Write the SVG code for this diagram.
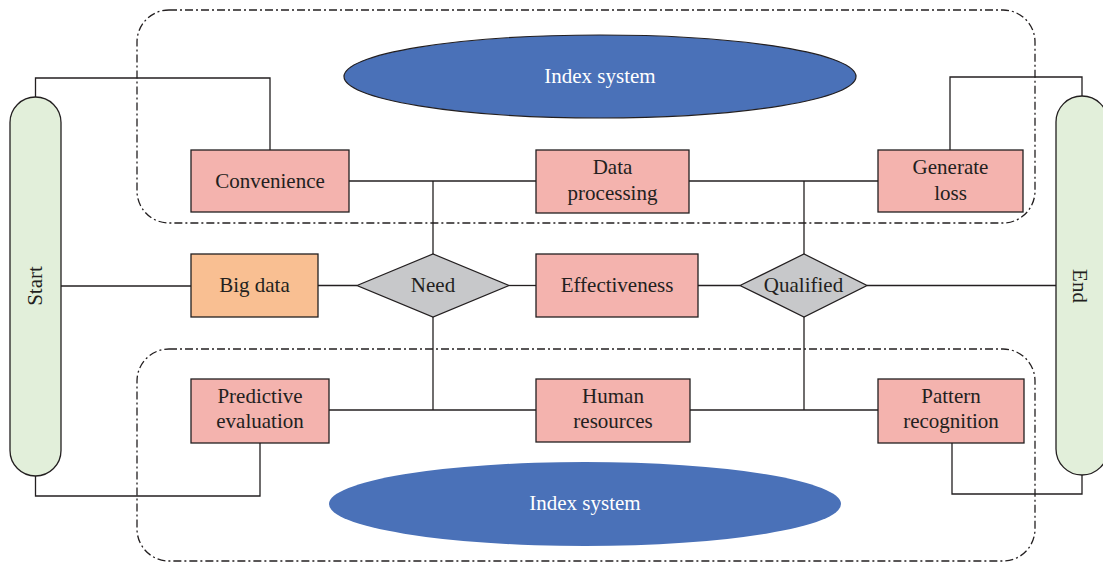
<svg xmlns="http://www.w3.org/2000/svg" width="1103" height="567" viewBox="0 0 1103 567">
<style>
.box{fill:#F4B3AE;stroke:#231F20;stroke-width:1.3}
.big{fill:#F9BF92;stroke:#231F20;stroke-width:1.3}
.dia{fill:#C7C8CA;stroke:#231F20;stroke-width:1.3}
.cap{fill:#E2EFDA;stroke:#231F20;stroke-width:1.3}
.ell{fill:#4A71B8;stroke:#231F20;stroke-width:1.2}
.ell2{fill:#4A71B8}
.grp{fill:none;stroke:#231F20;stroke-width:1.3;stroke-dasharray:8 3 2 3}
.ln{fill:none;stroke:#231F20;stroke-width:1.3}
text{font-family:"Liberation Serif","Times New Roman",serif;font-size:21px;fill:#231F20;text-anchor:middle}
.wt{fill:#FFFFFF}
</style>
<g id="groups">
<rect class="grp" x="137" y="10" width="898" height="213" rx="32" ry="32"/>
<rect class="grp" x="137" y="349" width="898" height="212" rx="32" ry="32"/>
</g>
<g id="connectors">
<polyline class="ln" points="35.5,97 35.5,78 270,78 270,150"/>
<polyline class="ln" points="1082,96 1082,77 950,77 950,150"/>
<polyline class="ln" points="35.5,476 35.5,496 260,496 260,443"/>
<polyline class="ln" points="1082,475 1082,494 952,494 952,443"/>
<line class="ln" x1="61" y1="286" x2="191" y2="286"/>
<line class="ln" x1="318" y1="285.5" x2="357" y2="285.5"/>
<line class="ln" x1="509" y1="285.5" x2="536" y2="285.5"/>
<line class="ln" x1="698" y1="285.5" x2="740" y2="285.5"/>
<line class="ln" x1="867" y1="285.5" x2="1056" y2="285.5"/>
<line class="ln" x1="349" y1="181" x2="536" y2="181"/>
<line class="ln" x1="433" y1="181" x2="433" y2="254"/>
<line class="ln" x1="689" y1="181" x2="878" y2="181"/>
<line class="ln" x1="804" y1="181" x2="804" y2="254"/>
<line class="ln" x1="433" y1="317" x2="433" y2="410"/>
<line class="ln" x1="329" y1="410" x2="536" y2="410"/>
<line class="ln" x1="804" y1="317" x2="804" y2="410"/>
<line class="ln" x1="690" y1="410" x2="878" y2="410"/>
</g>
<g id="index-top">
<ellipse class="ell" cx="600" cy="76.5" rx="256" ry="41.5"/>
<text class="wt" x="600" y="83">Index system</text>
</g>
<g id="index-bottom">
<ellipse class="ell2" cx="585" cy="504" rx="256" ry="42"/>
<text class="wt" x="585" y="510">Index system</text>
</g>
<g id="start">
<rect class="cap" x="10" y="97" width="51" height="379" rx="25.5" ry="25.5"/>
<text transform="translate(42,286) rotate(-90)">Start</text>
</g>
<g id="end">
<rect class="cap" x="1056" y="96" width="52" height="379" rx="26" ry="26"/>
<text transform="translate(1073,286) rotate(90)">End</text>
</g>
<g id="convenience">
<rect class="box" x="191" y="150" width="158" height="62"/>
<text x="270" y="188">Convenience</text>
</g>
<g id="data-processing">
<rect class="box" x="536" y="150" width="153" height="63"/>
<text x="612.5" y="174">Data</text>
<text x="612.5" y="200">processing</text>
</g>
<g id="generate-loss">
<rect class="box" x="878" y="150" width="145" height="62"/>
<text x="950.5" y="174">Generate</text>
<text x="950.5" y="200">loss</text>
</g>
<g id="big-data">
<rect class="big" x="191" y="254" width="127" height="63"/>
<text x="254.5" y="292">Big data</text>
</g>
<g id="need">
<polygon class="dia" points="357,285.5 433,254 509,285.5 433,317"/>
<text x="433" y="292">Need</text>
</g>
<g id="effectiveness">
<rect class="box" x="536" y="254" width="162" height="63"/>
<text x="617" y="292">Effectiveness</text>
</g>
<g id="qualified">
<polygon class="dia" points="740,285.5 804,254 867,285.5 804,317"/>
<text x="803.5" y="292">Qualified</text>
</g>
<g id="predictive-evaluation">
<rect class="box" x="191" y="379" width="138" height="64"/>
<text x="260" y="403">Predictive</text>
<text x="260" y="428">evaluation</text>
</g>
<g id="human-resources">
<rect class="box" x="536" y="379" width="154" height="63"/>
<text x="613" y="403">Human</text>
<text x="613" y="428">resources</text>
</g>
<g id="pattern-recognition">
<rect class="box" x="878" y="379" width="146" height="64"/>
<text x="951" y="403">Pattern</text>
<text x="951" y="428">recognition</text>
</g>
</svg>
